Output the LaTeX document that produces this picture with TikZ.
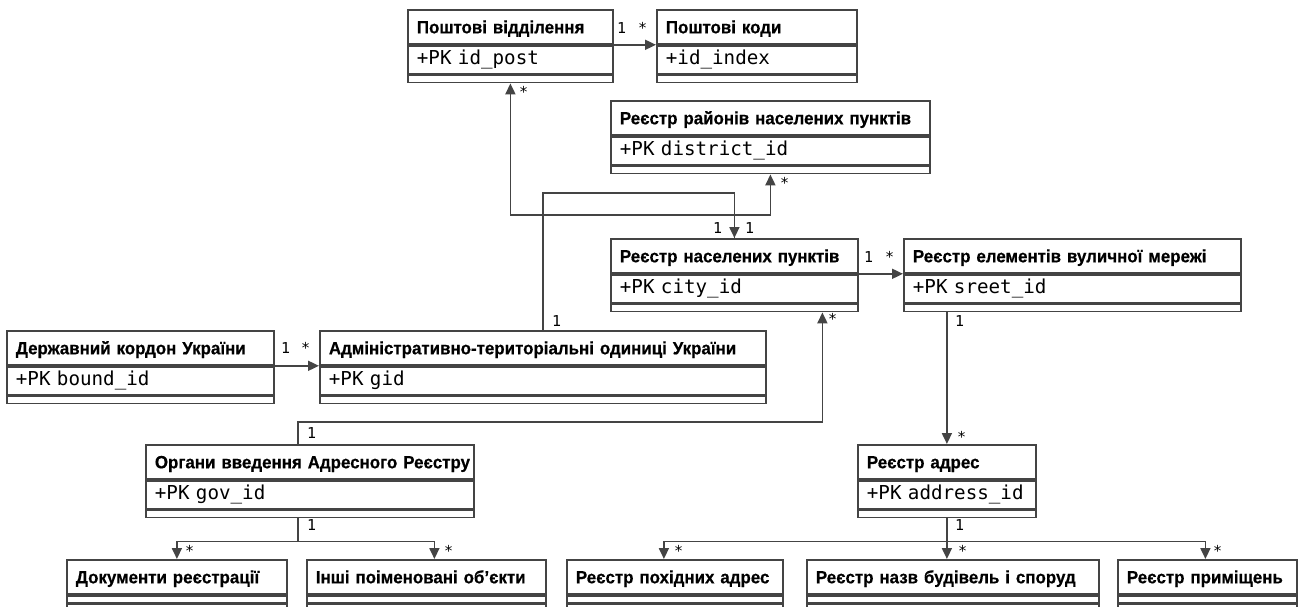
\documentclass[tikz,border=0pt]{standalone}
\usepackage{fontspec}
\setmainfont{Liberation Sans}
\newfontfamily\hdrfont{Liberation Sans}[FakeStretch=0.95, BoldFeatures={FakeBold=0.5}]
\newfontfamily\monofont{DejaVu Sans Mono}
\usetikzlibrary{arrows.meta}
\definecolor{umlline}{HTML}{444444}

\tikzset{
  hdr/.style={rectangle, draw=umlline, line width=1.8pt, fill=white, anchor=north west,
    align=left, inner xsep=9pt, inner ysep=0pt, minimum height=34pt,
    text height=12.8pt, text depth=0pt, font=\hdrfont\fontsize{17.8}{19}\selectfont\bfseries},
  attr/.style={hdr, minimum height=28pt, text height=13.5pt, text depth=3.5pt,
    font=\monofont\fontsize{19.2}{21}\selectfont},
  foot/.style={hdr, minimum height=7pt, text height=0pt, text depth=0pt},
  rest/.style={foot, minimum height=30pt},
  arr/.style={draw=umlline, line width=1.8pt, -{Triangle[length=11pt,width=10pt]}},
  mult/.style={anchor=base west, inner sep=0pt, font=\monofont\fontsize{15}{16}\selectfont}
}

% class box: name, x, y, width, title, attribute
\newcommand{\umlclass}[6]{%
  \pgfmathsetmacro{\tw}{#4-18}
  \node[hdr, text width=\tw pt] (#1) at (#2,#3) {\mbox{#5}};
  \node[attr, text width=\tw pt] (#1-a) at (#1.south west) {\mbox{#6}};
  \node[foot, text width=\tw pt] (#1-f) at (#1-a.south west) {};
}
% class box cut by the page edge: name, x, y, width, title
\newcommand{\umlleaf}[5]{%
  \pgfmathsetmacro{\tw}{#4-18}
  \node[hdr, text width=\tw pt] (#1) at (#2,#3) {\mbox{#5}};
  \node[foot, text width=\tw pt] (#1-a) at (#1.south west) {};
  \node[rest, text width=\tw pt] (#1-f) at (#1-a.south west) {};
}

\begin{document}
\begin{tikzpicture}[x=1pt, y=-1pt]
\clip (0,0) rectangle (1298,606);

% classes
\umlclass{post}{407}{9}{205}{Поштові відділення}{+PK id\_post}
\umlclass{codes}{656}{9}{200}{Поштові коди}{+id\_index}
\umlclass{district}{610}{100}{319}{Реєстр районів населених пунктів}{+PK district\_id}
\umlclass{city}{610}{238}{247}{Реєстр населених пунктів}{+PK city\_id}
\umlclass{street}{903}{238}{337}{Реєстр елементів вуличної мережі}{+PK sreet\_id}
\umlclass{bound}{6}{330}{267}{Державний кордон України}{+PK bound\_id}
\umlclass{admin}{319}{330}{446}{Адміністративно-територіальні одиниці України}{+PK gid}
\umlclass{gov}{145}{444}{328}{Органи введення Адресного Реєстру}{+PK gov\_id}
\umlclass{address}{857}{444}{178}{Реєстр адрес}{+PK address\_id}
\umlleaf{docs}{66}{559}{220}{Документи реєстрації}
\umlleaf{others}{306}{559}{239}{Інші поіменовані об’єкти}
\umlleaf{derived}{566}{559}{216}{Реєстр похідних адрес}
\umlleaf{names}{806}{559}{292}{Реєстр назв будівель і споруд}
\umlleaf{rooms}{1117}{559}{179}{Реєстр приміщень}

% links
\draw[arr] (post.south east) -- (codes.south west);
\draw[arr] (city.north) -- ++(0,-23) -| (post-f.south);
\draw[arr] (city.north) -- ++(0,-23) -| (district-f.south);
\draw[arr] (admin.north) -- ++(0,-137) -| (city.north);
\draw[arr] (city.south east) -- (street.south west);
\draw[arr] (address.north |- street-f.south) -- (address.north);
\draw[arr] (bound.south east) -- (admin.south west);
\draw[arr] ([xshift=153pt]gov.north west) -- ++(0,-22) -| ([xshift=88pt]city-f.south);
\draw[arr] ([xshift=153pt]gov-f.south west) -- ++(0,23) -| (docs.north);
\draw[arr] ([xshift=153pt]gov-f.south west) -- ++(0,23) -| ([xshift=8pt]others.north);
\draw[arr] (address-f.south) -- ++(0,23) -| ([xshift=-11pt]derived.north);
\draw[arr] (address-f.south) -- (address-f.south |- names.north);
\draw[arr] (address-f.south) -- ++(0,23) -| ([xshift=-2pt]rooms.north);

% multiplicities
\node[mult] (m1) at (617,33) {1};
\node[mult] (m2) at (638,33) {*};
\node[mult] (m3) at (864,262) {1};
\node[mult] (m4) at (885,262) {*};
\node[mult] (m5) at (281,353) {1};
\node[mult] (m6) at (301,353) {*};
\node[mult] (m7) at (552,326) {1};
\node[mult] (m8) at (713,233) {1};
\node[mult] (m9) at (745,233) {1};
\node[mult] (m10) at (519,97) {*};
\node[mult] (m11) at (780,188) {*};
\node[mult] (m12) at (828,324) {*};
\node[mult] (m13) at (955,326) {1};
\node[mult] (m14) at (957,442) {*};
\node[mult] (m15) at (307,438) {1};
\node[mult] (m16) at (307,530) {1};
\node[mult] (m17) at (185,556) {*};
\node[mult] (m18) at (444,556) {*};
\node[mult] (m19) at (955,530) {1};
\node[mult] (m20) at (674,556) {*};
\node[mult] (m21) at (958,556) {*};
\node[mult] (m22) at (1213,556) {*};
\end{tikzpicture}
\end{document}
